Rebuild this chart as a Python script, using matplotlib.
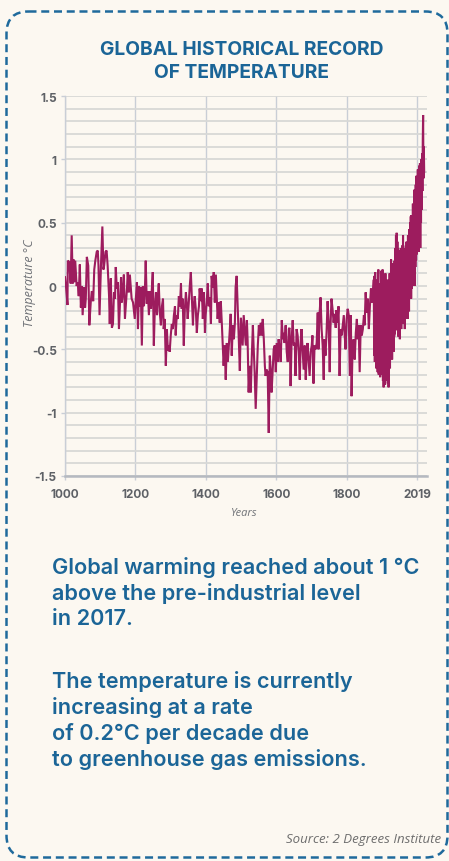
import matplotlib
matplotlib.use("Agg")
import matplotlib.pyplot as plt
from matplotlib.patches import FancyBboxPatch
from matplotlib.ticker import MultipleLocator

# ---------------- data ----------------
hist_years = [
    1000, 1003, 1007, 1008, 1012, 1016, 1019, 1022, 1024, 1026,
    1029, 1033, 1036, 1039, 1042, 1045, 1048, 1050, 1054, 1057,
    1059, 1062, 1066, 1069, 1073, 1076, 1080, 1083, 1086, 1090,
    1093, 1095, 1098, 1102, 1106, 1109, 1111, 1115, 1118, 1121,
    1125, 1127, 1130, 1133, 1136, 1139, 1142, 1144, 1147, 1150,
    1153, 1156, 1159, 1161, 1164, 1167, 1170, 1173, 1176, 1178,
    1181, 1184, 1189, 1193, 1198, 1201, 1204, 1207, 1210, 1212,
    1215, 1218, 1221, 1224, 1227, 1229, 1232, 1235, 1238, 1241,
    1244, 1246, 1249, 1252, 1255, 1258, 1261, 1263, 1266, 1269,
    1272, 1275, 1278, 1280, 1283, 1286, 1289, 1292, 1295, 1297,
    1300, 1303, 1306, 1309, 1312, 1314, 1317, 1320, 1323, 1326,
    1329, 1331, 1334, 1337, 1340, 1343, 1346, 1348, 1351, 1354,
    1357, 1360, 1363, 1365, 1368, 1371, 1374, 1377, 1380, 1382,
    1385, 1388, 1391, 1394, 1397, 1399, 1402, 1405, 1408, 1411,
    1414, 1416, 1419, 1422, 1425, 1428, 1431, 1433, 1436, 1439,
    1442, 1445, 1448, 1450, 1453, 1456, 1459, 1462, 1465, 1467,
    1470, 1473, 1476, 1479, 1482, 1484, 1487, 1490, 1493, 1496,
    1499, 1501, 1504, 1507, 1510, 1513, 1516, 1518, 1521, 1524,
    1527, 1530, 1533, 1535, 1538, 1541, 1544, 1547, 1550, 1552,
    1555, 1558, 1561, 1564, 1567, 1569, 1572, 1575, 1578, 1581,
    1584, 1586, 1589, 1592, 1595, 1598, 1601, 1603, 1606, 1609,
    1612, 1615, 1618, 1620, 1623, 1626, 1629, 1632, 1635, 1637,
    1640, 1643, 1646, 1649, 1652, 1654, 1657, 1660, 1663, 1666,
    1669, 1671, 1674, 1677, 1680, 1683, 1686, 1688, 1691, 1694,
    1697, 1700, 1702, 1705, 1708, 1711, 1714, 1717, 1719, 1722,
    1725, 1728, 1731, 1734, 1736, 1739, 1742, 1745, 1748, 1751,
    1753, 1756, 1759, 1762, 1765, 1768, 1770, 1773, 1776, 1779,
    1782, 1785, 1788, 1791, 1793, 1796, 1799, 1802, 1805, 1808,
    1811, 1813, 1816, 1819, 1822, 1825, 1828, 1830, 1833, 1836,
    1839, 1842, 1845, 1848, 1850, 1853, 1856, 1859, 1862, 1865,
    1868, 1870, 1873,
]
hist_temps = [
    0.07, -0.01, -0.15, 0.20, 0.19, 0.02, 0.40, 0.02, 0.21, 0.03,
    0.20, 0.00, 0.03, -0.08, 0.17, -0.17, 0.00, -0.23, -0.01, -0.17,
    -0.10, 0.23, 0.16, -0.31, -0.13, -0.04, -0.12, 0.13, 0.20, 0.27,
    0.28, 0.16, -0.23, 0.16, 0.47, 0.13, 0.16, 0.27, 0.28, 0.16,
    -0.08, -0.30, 0.06, -0.33, -0.30, -0.05, -0.10, 0.15, -0.02, 0.03,
    -0.34, -0.13, 0.07, -0.13, -0.05, 0.09, -0.26, -0.13, -0.01, 0.11,
    -0.05, 0.09, -0.10, -0.13, -0.26, -0.10, 0.03, -0.34, 0.00, -0.16,
    -0.01, -0.47, 0.00, -0.16, 0.00, 0.20, -0.14, -0.04, -0.23, -0.04,
    -0.18, -0.04, 0.11, -0.47, -0.16, -0.05, -0.23, -0.10, 0.02, -0.21,
    -0.31, -0.16, -0.10, -0.34, -0.26, -0.63, -0.34, -0.51, -0.47, -0.52,
    -0.39, -0.30, -0.34, -0.23, -0.16, -0.39, -0.23, -0.26, -0.08, -0.16,
    0.02, -0.18, -0.10, -0.47, -0.18, -0.05, -0.16, -0.26, -0.14, 0.00,
    0.11, -0.10, -0.31, -0.16, -0.08, -0.18, -0.37, -0.23, -0.16, -0.02,
    -0.12, -0.02, -0.26, -0.05, -0.37, -0.23, -0.13, 0.02, -0.16, -0.09,
    -0.30, 0.08, -0.01, 0.11, -0.13, 0.09, -0.12, -0.26, -0.13, -0.29,
    -0.12, -0.30, -0.50, -0.63, -0.47, -0.74, -0.45, -0.60, -0.47, -0.37,
    -0.22, -0.55, -0.31, -0.42, -0.29, -0.01, 0.08, -0.16, -0.42, -0.67,
    -0.25, -0.34, -0.47, -0.23, -0.35, -0.47, -0.27, -0.42, -0.84, -0.63,
    -0.84, -0.55, -0.31, -0.47, -0.68, -0.97, -0.71, -0.47, -0.31, -0.39,
    -0.29, -0.39, -0.26, -0.42, -0.63, -0.71, -0.66, -0.68, -1.16, -0.55,
    -0.68, -0.84, -0.68, -0.50, -0.47, -0.68, -0.45, -0.60, -0.42, -0.50,
    -0.60, -0.27, -0.42, -0.37, -0.45, -0.31, -0.52, -0.60, -0.34, -0.33,
    -0.79, -0.42, -0.27, -0.47, -0.45, -0.71, -0.34, -0.39, -0.52, -0.74,
    -0.42, -0.34, -0.50, -0.66, -0.47, -0.74, -0.52, -0.45, -0.58, -0.71,
    -0.52, -0.47, -0.39, -0.77, -0.47, -0.50, -0.45, -0.21, -0.50, -0.23,
    -0.09, -0.34, -0.47, -0.74, -0.42, -0.55, -0.37, -0.12, -0.29, -0.68,
    -0.34, -0.10, -0.18, -0.29, -0.22, -0.33, -0.19, -0.29, -0.16, -0.71,
    -0.34, -0.39, -0.31, -0.23, -0.37, -0.50, -0.26, -0.18, -0.23, -0.71,
    -0.23, -0.87, -0.47, -0.42, -0.58, -0.37, -0.26, -0.42, -0.31, -0.68,
    -0.31, -0.39, -0.34, -0.23, -0.31, -0.05, -0.21, -0.10, -0.34, -0.16,
    -0.02, -0.13, -0.10,
]
recent_years = list(range(1876, 2020))
recent_temps = [
    0.05, -0.55, 0.08, -0.60, 0.11, -0.50, 0.02, -0.65, -0.05, -0.62,
    0.05, -0.68, 0.00, 0.13, -0.70, 0.02, -0.67, -0.05, -0.72, 0.00,
    -0.60, 0.12, -0.70, 0.05, -0.55, 0.13, -0.75, -0.02, -0.80, 0.08,
    -0.70, -0.05, -0.78, 0.10, -0.72, -0.02, -0.75, 0.05, -0.65, 0.00,
    -0.77, -0.05, -0.80, 0.05, -0.60, 0.10, -0.65, 0.08, -0.55, 0.21,
    -0.50, 0.10, -0.58, 0.15, -0.45, 0.18, -0.52, 0.05, -0.40, 0.20,
    -0.38, 0.30, -0.35, 0.40, -0.30, 0.42, -0.28, 0.35, -0.32, 0.30,
    -0.40, 0.25, -0.35, 0.28, -0.42, 0.22, -0.30, 0.30, -0.34, 0.20,
    -0.28, 0.32, -0.25, 0.40, -0.30, 0.28, -0.22, 0.30, -0.34, 0.25,
    -0.26, 0.32, -0.20, 0.35, -0.22, 0.28, -0.26, 0.40, -0.15, 0.30,
    -0.20, 0.45, -0.10, 0.50, -0.05, 0.55, -0.10, 0.56, -0.02, 0.50,
    0.00, 0.65, 0.05, 0.60, 0.10, 0.76, 0.00, 0.70, 0.15, 0.80,
    0.20, 0.87, 0.25, 0.85, 0.27, 0.92, 0.30, 0.90, 0.27, 0.95,
    0.35, 0.97, 0.30, 0.95, 0.50, 1.00, 0.60, 1.05, 0.75, 1.15,
    1.35, 0.85, 1.10, 0.90,
]
x_tick_pos = [1000, 1200, 1400, 1600, 1800, 2000]
x_tick_labels = ["1000", "1200", "1400", "1600", "1800", "2019"]
y_tick_pos = [-1.5, -1.0, -0.5, 0.0, 0.5, 1.0, 1.5]
y_tick_labels = ["-1.5", "-1", "-0.5", "0", "0.5", "1", "1.5"]

years = hist_years + recent_years
temps = hist_temps + recent_temps

# ---------------- style ----------------
W, H = 449, 862
BG = "#fcf8f1"
BLUE = "#1b6597"
LINE = "#9d1c5e"
GREY = "#5e6166"
BOLD = ["Inter", "DejaVu Sans"]
ITAL = ["Open Sans", "DejaVu Sans"]

fig = plt.figure(figsize=(W / 100, H / 100), dpi=100)
fig.patch.set_facecolor(BG)

# overlay in pixel coordinates for frame & texts
bg = fig.add_axes([0, 0, 1, 1], zorder=0)
bg.set_xlim(0, W)
bg.set_ylim(H, 0)
bg.axis("off")
bg.patch.set_alpha(0)

frame = FancyBboxPatch((6.5, 12.5), 441, 846,
                       boxstyle="round,pad=0,rounding_size=22",
                       fill=False, ec="#1f6a9c", lw=1.8,
                       linestyle=(0, (3.2, 1.9)))
bg.add_patch(frame)

bg.text(242, 55, "GLOBAL HISTORICAL RECORD", ha="center", va="baseline",
        fontsize=13.8, fontweight="bold", color=BLUE, family=BOLD)
bg.text(242, 77.5, "OF TEMPERATURE", ha="center", va="baseline",
        fontsize=13.8, fontweight="bold", color=BLUE, family=BOLD)

para1 = ["Global warming reached about 1 °C",
         "above the pre-industrial level",
         "in 2017."]
para2 = ["The temperature is currently",
         "increasing at a rate",
         "of 0.2°C per decade due",
         "to greenhouse gas emissions."]
for i, s in enumerate(para1):
    bg.text(52, 574.5 + i * 25.5, s, ha="left", va="baseline",
            fontsize=15.6, fontweight="semibold", color=BLUE, family=BOLD)
for i, s in enumerate(para2):
    bg.text(52, 688.5 + i * 25.8, s, ha="left", va="baseline",
            fontsize=15.6, fontweight="semibold", color=BLUE, family=BOLD)

bg.text(441, 843, "Source: 2 Degrees Institute", ha="right", va="baseline",
        fontsize=9.5, style="italic", color="#6d6d6d", family=ITAL)

bg.text(29, 283, "Temperature °C", rotation=90, ha="center", va="center",
        fontsize=9, style="italic", color="#6f7277", family=ITAL)
bg.text(244, 514, "Years", ha="center", va="center",
        fontsize=8, style="italic", color="#6f7277", family=ITAL)

# ---------------- chart ----------------
ax = fig.add_axes([65 / W, 1 - 477 / H, 362 / W, 380 / H], zorder=1)
ax.set_facecolor("none")
ax.set_xlim(1000, 2027)
ax.set_ylim(-1.5, 1.5)

ax.plot(years, temps, color=LINE, lw=1.5, zorder=3, solid_joinstyle="miter")

ax.set_yticks(y_tick_pos)
ax.set_yticklabels(y_tick_labels)
ax.yaxis.set_minor_locator(MultipleLocator(0.1))
ax.set_xticks(x_tick_pos)
ax.set_xticklabels(x_tick_labels)

ax.grid(axis="y", which="both", color="#d8d8d6", lw=1.3, zorder=1)
ax.grid(axis="x", which="major", color="#c9ced6", lw=1.0, zorder=1)
ax.set_axisbelow(True)

for side in ("top", "right"):
    ax.spines[side].set_visible(False)
ax.spines["left"].set_color("#c9ced6")
ax.spines["left"].set_linewidth(1.0)
ax.spines["bottom"].set_color("#b5b9c0")
ax.spines["bottom"].set_linewidth(1.8)

ax.tick_params(axis="y", which="major", length=3, width=1, color="#c9ced6",
               pad=3, labelsize=8.5, labelcolor=GREY)
ax.tick_params(axis="y", which="minor", length=0)
ax.tick_params(axis="x", which="major", length=3, width=1, color="#c9ced6",
               pad=6, labelsize=8.5, labelcolor=GREY)
for lab in ax.get_xticklabels() + ax.get_yticklabels():
    lab.set_fontweight("bold")
    lab.set_family(BOLD)

fig.savefig("out.png", dpi=100, facecolor=BG)
